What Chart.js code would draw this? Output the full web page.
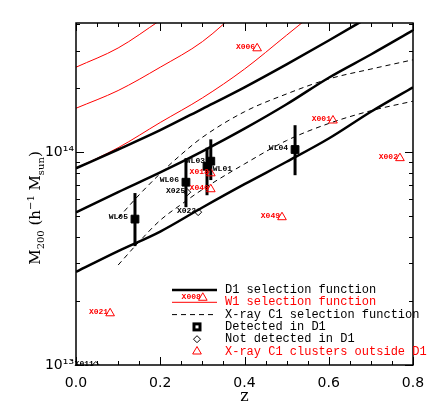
<!DOCTYPE html>
<html>
<head>
<meta charset="utf-8">
<script src="https://cdn.jsdelivr.net/npm/chart.js@4.4.1/dist/chart.umd.min.js"></script>
<style>
html, body { margin: 0; padding: 0; background: #fff; }
#wrap { width: 436px; height: 416px; }
</style>
</head>
<body>
<div id="wrap"><canvas id="c" width="436" height="416"></canvas></div>
<script>
// selection functions, M200 in h^-1 Msun vs redshift
const zD1 = [0, 0.1, 0.2, 0.3, 0.4, 0.5, 0.6, 0.7, 0.8]
const d1High = [8.41e13, 1.03e14, 1.27e14, 1.60e14, 2.02e14, 2.59e14, 3.35e14, 4.37e14]
const d1Mid = [5.22e13, 6.50e13, 8.04e13, 1.01e14, 1.29e14, 1.68e14, 2.24e14, 2.88e14, 3.74e14]
const d1Low = [2.74e13, 3.43e13, 4.24e13, 5.50e13, 7.08e13, 9.02e13, 1.16e14, 1.55e14, 2.02e14]

const zW1 = [0, 0.1, 0.2, 0.3, 0.4, 0.5, 0.6]
const w1Low = [8.41e13, 1.05e14, 1.38e14, 1.80e14, 2.46e14, 3.55e14, 5.13e14]
const w1Mid = [1.61e14, 1.95e14, 2.51e14, 3.31e14, 4.90e14]
const w1High = [2.51e14, 3.09e14, 4.17e14]

const zC1 = [0.1, 0.15, 0.2, 0.25, 0.3, 0.4, 0.5, 0.6, 0.7, 0.8]
const c1High = [4.90e13, 6.31e13, 7.94e13, 9.77e13, 1.175e14, 1.55e14, 1.88e14, 2.21e14, 2.46e14, 2.72e14]
const c1Low = [2.95e13, 3.80e13, 4.79e13, 5.69e13, 6.68e13, 8.81e13, 1.135e14, 1.365e14, 1.567e14, 1.738e14]

// weak lensing clusters detected in D1
const wlNames = ['WL05', 'WL06', 'WL03', 'WL01', 'WL04']
const wlZ = [0.140, 0.261, 0.311, 0.320, 0.520]
const wlM = [4.85e13, 7.23e13, 8.59e13, 9.08e13, 1.03e14]
const wlLo = [3.62e13, 5.52e13, 6.28e13, 7.40e13, 7.80e13]
const wlHi = [6.43e13, 9.38e13, 1.05e14, 1.15e14, 1.34e14]

// X-ray clusters not detected in D1
const ndNames = ['X025', 'X022', 'X011']
const ndZ = [0.264, 0.290, 0.047]
const ndM = [6.49e13, 5.23e13, 1.0e13]

// X-ray C1 clusters outside D1
const outNames = ['X018', 'X040', 'X049', 'X001', 'X002', 'X006', 'X021', 'X008']
const outZ = [0.320, 0.320, 0.489, 0.610, 0.769, 0.430, 0.081, 0.301]
const outM = [7.96e13, 6.70e13, 4.95e13, 1.41e14, 9.38e13, 3.08e14, 1.75e13, 2.07e13]

const yTickValues = [1e13, 2e13, 3e13, 4e13, 5e13, 6e13, 7e13, 8e13, 9e13, 1e14, 2e14, 3e14, 4e14]

const RED = '#ff0000'
const pts = (z, m) => m.map((v, i) => ({ x: z[i], y: v }))

function curve (z, m, color, width, dash) {
  return {
    data: pts(z, m),
    showLine: true,
    borderColor: color,
    borderWidth: width,
    borderDash: dash || [],
    pointRadius: 0,
    cubicInterpolationMode: 'monotone'
  }
}

// label offsets (dx, dy, align) for the point names
const labelShift = {
  WL03: [-2, -3, 'right'],
  WL01: [2, 10, 'left']
}

const overlay = {
  id: 'overlay',
  beforeDatasetsDraw (chart) {
    const { ctx, scales: { x, y } } = chart
    ctx.save()
    ctx.strokeStyle = '#000'
    ctx.lineWidth = 3
    wlZ.forEach((z, i) => {
      const px = x.getPixelForValue(z)
      ctx.beginPath()
      ctx.moveTo(px, y.getPixelForValue(wlLo[i]))
      ctx.lineTo(px, y.getPixelForValue(wlHi[i]))
      ctx.stroke()
    })
    ctx.restore()
  },
  afterDraw (chart) {
    const { ctx, chartArea: a, scales: { x, y } } = chart
    ctx.save()
    // frame + inward ticks on all four sides
    ctx.strokeStyle = '#000'
    ctx.lineWidth = 1.5
    ctx.strokeRect(a.left, a.top, a.right - a.left, a.bottom - a.top)
    ctx.lineWidth = 1
    ctx.beginPath()
    x.ticks.forEach(t => {
      const px = Math.round(x.getPixelForValue(t.value)) + 0.5
      const len = t.label ? 8 : 4
      ctx.moveTo(px, a.bottom); ctx.lineTo(px, a.bottom - len)
      ctx.moveTo(px, a.top); ctx.lineTo(px, a.top + len)
    })
    y.ticks.forEach(t => {
      const py = Math.round(y.getPixelForValue(t.value)) + 0.5
      const len = t.label ? 8 : 4
      ctx.moveTo(a.left, py); ctx.lineTo(a.left + len, py)
      ctx.moveTo(a.right, py); ctx.lineTo(a.right - len, py)
    })
    ctx.stroke()

    // point names
    ctx.font = 'bold 8px "Liberation Mono", monospace'
    ctx.textBaseline = 'alphabetic'
    const named = [[0, wlNames, '#000', 7, 0], [1, ndNames, '#000', 2, 1], [2, outNames, RED, 2, 1]]
    named.forEach(([idx, names, color, gap, drop]) => {
      const meta = chart.getDatasetMeta(idx)
      ctx.fillStyle = color
      names.forEach((n, i) => {
        const el = meta.data[i]
        const s = labelShift[n]
        if (s) {
          ctx.textAlign = s[2]
          ctx.fillText(n, el.x + s[0], el.y + s[1])
        } else {
          ctx.textAlign = 'right'
          ctx.fillText(n, el.x - gap, el.y + drop)
        }
      })
    })

    // legend
    const lx = a.left + 96
    const tx = a.left + 149
    let ly = a.top + 267
    const rows = [
      ['D1 selection function', '#000', 'solid'],
      ['W1 selection function', RED, 'thin'],
      ['X-ray C1 selection function', '#000', 'dash'],
      ['Detected in D1', '#000', 'square'],
      ['Not detected in D1', '#000', 'diamond'],
      ['X-ray C1 clusters outside D1', RED, 'triangle']
    ]
    ctx.font = '12px "Liberation Mono", monospace'
    ctx.textAlign = 'left'
    ctx.textBaseline = 'middle'
    rows.forEach(([text, color, kind]) => {
      ctx.strokeStyle = color
      ctx.fillStyle = color
      const cx = lx + 25
      if (kind === 'solid' || kind === 'thin' || kind === 'dash') {
        ctx.lineWidth = kind === 'solid' ? 2.5 : 1
        ctx.setLineDash(kind === 'dash' ? [5, 4] : [])
        ctx.beginPath()
        ctx.moveTo(lx, ly); ctx.lineTo(lx + 45, ly)
        ctx.stroke()
        ctx.setLineDash([])
      } else if (kind === 'square') {
        ctx.lineWidth = 3
        ctx.strokeRect(cx - 3, ly - 3, 6, 6)
      } else {
        ctx.lineWidth = 1
        ctx.fillStyle = 'rgba(0,0,0,0)'
        const style = kind === 'diamond' ? { pointStyle: 'rectRot', radius: 3.5, borderWidth: 1 } : { pointStyle: 'triangle', radius: 5, borderWidth: 1 }
        Chart.helpers.drawPoint(ctx, style, cx, ly)
        ctx.fillStyle = color
      }
      ctx.fillText(text, tx, ly)
      ly += 12.3
    })

    // y axis title with sub/superscripts
    const parts = [
      ['M', 15, 0], ['200', 10, 4], [' (h', 15, 0], ['\u22121', 10, -6],
      [' M', 15, 0], ['sun', 10, 4], [')', 15, 0]
    ]
    ctx.fillStyle = '#000'
    ctx.textBaseline = 'alphabetic'
    ctx.translate(35, 208)
    ctx.rotate(-Math.PI / 2)
    let w = 0
    parts.forEach(p => {
      ctx.font = p[1] + 'px "DejaVu Serif", serif'
      w += ctx.measureText(p[0]).width
    })
    let cx = -w / 2
    parts.forEach(p => {
      ctx.font = p[1] + 'px "DejaVu Serif", serif'
      ctx.fillText(p[0], cx, 5 + p[2])
      cx += ctx.measureText(p[0]).width
    })
    ctx.restore()
  }
}

new Chart(document.getElementById('c'), {
  type: 'scatter',
  data: {
    datasets: [
      {
        data: pts(wlZ, wlM),
        pointStyle: 'rect',
        pointRadius: 5.5,
        backgroundColor: '#000',
        borderColor: '#000',
        borderWidth: 1
      },
      {
        data: pts(ndZ, ndM),
        pointStyle: 'rectRot',
        pointRadius: 3.5,
        backgroundColor: 'rgba(0,0,0,0)',
        borderColor: '#000',
        borderWidth: 1
      },
      {
        data: pts(outZ, outM),
        pointStyle: 'triangle',
        pointRadius: 5,
        backgroundColor: 'rgba(0,0,0,0)',
        borderColor: RED,
        borderWidth: 1
      },
      curve(zD1, d1High, '#000', 2.5),
      curve(zD1, d1Mid, '#000', 2.5),
      curve(zD1, d1Low, '#000', 2.5),
      curve(zW1, w1Low, RED, 1),
      curve(zW1, w1Mid, RED, 1),
      curve(zW1, w1High, RED, 1),
      curve(zC1, c1High, '#000', 1, [5, 4]),
      curve(zC1, c1Low, '#000', 1, [5, 4])
    ]
  },
  options: {
    responsive: false,
    animation: false,
    layout: { padding: { top: 23, right: 23, left: 0, bottom: 0 } },
    plugins: { legend: { display: false }, tooltip: { enabled: false } },
    scales: {
      x: {
        type: 'linear',
        min: 0,
        max: 0.8,
        afterBuildTicks: s => { s.ticks = [...Array(17)].map((_, i) => ({ value: i * 0.05 })) },
        afterFit: s => { s.height = 51 },
        grid: { display: false, drawTicks: false },
        border: { display: false },
        ticks: {
          autoSkip: false,
          maxRotation: 0,
          padding: 10,
          color: '#000',
          font: { family: '"DejaVu Sans", sans-serif', size: 14 },
          callback: v => Math.abs(v * 5 - Math.round(v * 5)) < 1e-6 ? v.toFixed(1) : ''
        },
        title: {
          display: true,
          text: 'z',
          color: '#000',
          font: { family: '"DejaVu Serif", serif', size: 16 },
          padding: { top: 0, bottom: 10 }
        }
      },
      y: {
        type: 'logarithmic',
        min: 1e13,
        max: 4.05e14,
        afterBuildTicks: s => { s.ticks = yTickValues.map(v => ({ value: v })) },
        afterFit: s => { s.width = 76 },
        grid: { display: false, drawTicks: false },
        border: { display: false },
        ticks: {
          autoSkip: false,
          padding: 2,
          color: '#000',
          font: { family: '"DejaVu Sans", sans-serif', size: 14 },
          callback: v => v === 1e13 ? '10\u00b9\u00b3' : v === 1e14 ? '10\u00b9\u2074' : ''
        }
      }
    }
  },
  plugins: [overlay]
})
</script>
</body>
</html>
